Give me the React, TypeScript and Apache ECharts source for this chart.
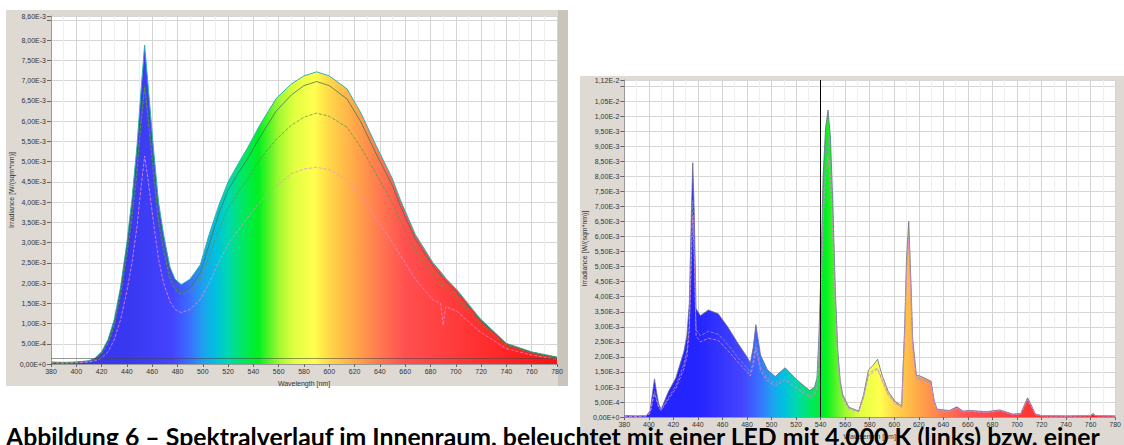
import React, { useEffect, useRef } from "react";
import * as echarts from "echarts";

// ---------- DATA ----------
// Left chart: LED 4000 K, irradiance in 1E-3 W/(sqm*nm)
const L_WL = [380,390,400,410,415,420,425,430,435,440, 444,448,451,454,457,461,465,469,474,478, 483,490,498,505,513,520,528,535,545,558, 570,580,590,600,614,625,637,650,656,668, 682,688,690,692,701,719,740,760,780];
const L_TOP = [0.05,0.04,0.05,0.08,0.15,0.3,0.6,1.1,1.9,3.0,
  4.07,5.4,6.7,7.88,6.8,5.32,4.0,3.2,2.4,2.1,
  1.96,2.1,2.45,3.2,3.95,4.5,4.95,5.32,5.9,6.56,
  6.92,7.12,7.22,7.12,6.8,6.2,5.4,4.57,4.07,3.2,
  2.5,2.28,2.2,2.12,1.83,1.13,0.51,0.3,0.17];
const L_C2 = [0.04,0.03,0.04,0.07,0.13,0.27,0.55,1.0,1.8,2.85,
  3.8,4.9,6.0,6.88,6.1,4.9,3.65,2.95,2.2,1.9,
  1.76,1.88,2.25,2.95,3.75,4.3,4.72,5.05,5.6,6.25,
  6.65,6.88,6.98,6.88,6.55,5.98,5.2,4.4,3.92,3.08,
  2.42,2.2,2.13,2.05,1.76,1.08,0.49,0.28,0.16];
const L_C3 = [0.04,0.03,0.04,0.06,0.12,0.25,0.5,0.95,1.7,2.7,
  3.6,4.7,5.9,6.82,6.0,4.7,3.5,2.8,2.1,1.85,
  1.72,1.8,2.1,2.65,3.35,3.85,4.25,4.55,5.05,5.55,
  5.9,6.1,6.2,6.12,5.85,5.35,4.7,3.98,3.55,2.8,
  2.2,2.0,1.95,1.9,1.62,1.0,0.46,0.27,0.15];
const L_C4 = [0.03,0.02,0.03,0.05,0.08,0.15,0.3,0.6,1.1,1.8,
  2.5,3.4,4.3,5.14,4.5,3.5,2.6,2.0,1.55,1.35,
  1.27,1.35,1.6,2.0,2.55,2.95,3.3,3.6,4.0,4.4,
  4.7,4.82,4.86,4.8,4.55,4.15,3.6,3.0,2.7,2.1,
  1.58,1.5,0.96,1.42,1.3,0.8,0.38,0.22,0.12];

// Right chart: fluorescent lamp
const R_WL = [380,390,398,401,403,404.6,406,408,410,416,
  422,428.5,431,433,434.5,435.8,437,438.5,442,448.5,
  456.6,464.6,472.6,480.6,482.7,485,487.2,489,491,496.6,
  503,511,520.6,531,535,537,538.5,540,542,544,
  546,548,550,552,554,556,558,563,571,575,
  579,583,586.4,590,595,600.6,606,608.6,610,611.8,
  613.5,615,618,622,630,632.6,635,645,651,656,
  662,675,686,696.6,703,706,708.6,711,715,720,
  740,760,762,764,780];
const R_TOP = [0.05,0.04,0.05,0.2,0.8,1.27,0.9,0.45,0.26,0.85,
  1.3,2.17,2.7,3.8,6.5,8.45,6.8,3.6,3.37,3.56,
  3.43,2.98,2.45,1.96,1.8,2.3,3.07,2.6,2.06,1.57,
  1.35,1.64,1.24,0.88,0.99,1.3,2.6,4.5,8.0,9.6,
  10.2,9.3,7.0,4.2,2.2,1.2,0.75,0.33,0.2,0.75,
  1.57,1.73,1.92,1.4,0.86,0.53,0.37,3.15,5.3,6.5,
  4.6,2.6,1.4,1.35,1.19,0.53,0.26,0.22,0.34,0.2,
  0.22,0.18,0.24,0.1,0.12,0.4,0.64,0.45,0.1,0.05,
  0.04,0.05,0.12,0.05,0.04];
const R_L1 = [0.03,0.03,0.04,0.15,0.55,0.85,0.65,0.35,0.25,0.65,
  1.05,1.75,2.2,3.1,5.4,7.2,5.6,2.9,2.7,2.85,
  2.75,2.4,1.98,1.6,1.48,1.85,2.45,2.1,1.68,1.3,
  1.12,1.33,1.02,0.72,0.8,1.1,2.2,3.9,7.0,8.6,
  9.3,8.4,6.3,3.8,2.0,1.1,0.68,0.3,0.18,0.68,
  1.42,1.56,1.62,1.25,0.78,0.48,0.34,2.9,4.9,6.1,
  4.3,2.4,1.3,1.26,1.12,0.5,0.24,0.2,0.3,0.18,
  0.2,0.16,0.22,0.09,0.11,0.37,0.6,0.42,0.09,0.05,
  0.04,0.05,0.1,0.05,0.04];
const R_L2 = [0.03,0.02,0.04,0.12,0.5,0.78,0.6,0.32,0.22,0.6,
  0.95,1.6,2.0,2.9,5.0,6.7,5.2,2.7,2.5,2.62,
  2.55,2.2,1.82,1.48,1.36,1.7,2.27,1.95,1.55,1.2,
  1.04,1.24,0.95,0.66,0.74,1.0,2.0,3.6,6.5,8.0,
  8.7,7.9,5.9,3.5,1.85,1.0,0.62,0.28,0.17,0.64,
  1.36,1.5,1.58,1.2,0.74,0.45,0.32,2.8,4.7,5.9,
  4.1,2.3,1.25,1.22,1.08,0.48,0.23,0.19,0.29,0.17,
  0.19,0.15,0.21,0.08,0.1,0.35,0.58,0.4,0.08,0.04,
  0.03,0.04,0.09,0.04,0.03];
const R_CURSOR = 540;

// Tick labels
const X_TICKS = [380,400,420,440,460,480,500,520,540,560,580,600,620,640,660,680,700,720,740,760,780];
const L_YLABELS = [0,0.5,1,1.5,2,2.5,3,3.5,4,4.5,5,5.5,6,6.5,7,7.5,8,8.6];
const L_YTICKS = [0,0.5,1,1.5,2,2.5,3,3.5,4,4.5,5,5.5,6,6.5,7,7.5,8,8.5,8.6];
const R_YLABELS = [0,0.5,1,1.5,2,2.5,3,3.5,4,4.5,5,5.5,6,6.5,7,7.5,8,8.5,9,9.5,10,10.5,11.2];
const R_YTICKS = [0,0.5,1,1.5,2,2.5,3,3.5,4,4.5,5,5.5,6,6.5,7,7.5,8,8.5,9,9.5,10,10.5,11,11.2];

const Y_NAME = "Irradiance [W/(sqm*nm)]";
const X_NAME = "Wavelength [nm]";
const CAPTION = "Abbildung 6 – Spektralverlauf im Innenraum, beleuchtet mit einer LED mit 4.000 K (links) bzw. einer";

const zip = (xs: number[], ys: number[]) => xs.map((x, i) => [x, ys[i]]);
const fmt = (v: number) => (v * 1e-3).toExponential(2).replace(".", ",").replace("e", "E");

const spectrumGradient = (blue: string) =>
  new echarts.graphic.LinearGradient(0, 0, 1, 0, [
    { offset: 0, color: blue },
    { offset: 0.15, color: blue },
    { offset: 0.24, color: "#4444ff" },
    { offset: 0.275, color: "#3a70ff" },
    { offset: 0.3, color: "#1fa0f0" },
    { offset: 0.325, color: "#00c0e0" },
    { offset: 0.35, color: "#00d8b0" },
    { offset: 0.38, color: "#00e860" },
    { offset: 0.41, color: "#00f020" },
    { offset: 0.45, color: "#a0f830" },
    { offset: 0.48, color: "#e0ff40" },
    { offset: 0.52, color: "#ffff50" },
    { offset: 0.55, color: "#ffd848" },
    { offset: 0.6, color: "#ffa848" },
    { offset: 0.65, color: "#ff7850" },
    { offset: 0.7, color: "#ff5050" },
    { offset: 0.8, color: "#ff3a3a" },
    { offset: 1, color: "#ff1010" },
  ]);

const labelFont = { fontSize: 7, color: "#333", fontFamily: "Liberation Sans" };

const xAxisCfg = (gridIndex: number, nameGap: number) => ({
  type: "value",
  gridIndex,
  min: 380,
  max: 780,
  interval: 20,
  name: X_NAME,
  nameLocation: "middle",
  nameGap,
  nameTextStyle: { ...labelFont },
  axisLine: { show: true, lineStyle: { color: "#999" } },
  axisTick: { show: true, length: 3, lineStyle: { color: "#666" } },
  axisLabel: { ...labelFont, margin: 4, customValues: X_TICKS },
  splitLine: { show: true, lineStyle: { color: "#d4d4d4", width: 1 } },
  minorTick: { show: false, splitNumber: 2 },
  minorSplitLine: { show: true, lineStyle: { color: "#eeeeee", width: 1 } },
});

const yAxisCfg = (gridIndex: number, max: number, labels: number[], ticks: number[]) => ({
  type: "value",
  gridIndex,
  min: 0,
  max,
  name: Y_NAME,
  nameLocation: "middle",
  nameGap: 36,
  nameTextStyle: { ...labelFont },
  axisLine: { show: true, lineStyle: { color: "#999" } },
  axisTick: { show: true, length: 4, customValues: ticks, lineStyle: { color: "#666" } },
  axisLabel: { ...labelFont, margin: 5, customValues: labels, formatter: fmt },
  splitLine: { show: true, lineStyle: { color: "#d6d6d6", width: 1 } },
});

export default function App() {
  const ref = useRef<HTMLDivElement>(null);
  useEffect(() => {
    if (!ref.current) return;
    const chart = echarts.init(ref.current, null, { renderer: "svg" });
    chart.setOption({
      animation: false,
      backgroundColor: "#ffffff",
      graphic: [
        { type: "rect", z: -10, shape: { x: 6, y: 10, width: 562, height: 376 }, style: { fill: "#dedad3" } },
        { type: "rect", z: -9, shape: { x: 558, y: 10, width: 10, height: 376 }, style: { fill: "#c9c5bd" } },
        { type: "rect", z: -10, shape: { x: 580, y: 76, width: 544, height: 369 }, style: { fill: "#dedad3" } },
        {
          type: "text",
          z: 100,
          x: 6,
          y: 436,
          style: {
            text: CAPTION,
            fill: "#000",
            font: "bold 24.8px Lato",
            verticalAlign: "middle",
          },
        },
      ],
      grid: [
        { left: 51, top: 16, width: 506, height: 348, show: true, backgroundColor: "#fff", borderWidth: 0 },
        { left: 624.3, top: 80, width: 500, height: 343, show: true, backgroundColor: "#fff", borderWidth: 0 },
      ],
      xAxis: [xAxisCfg(0, 13), xAxisCfg(1, 14)],
      yAxis: [yAxisCfg(0, 8.6, L_YLABELS, L_YTICKS), yAxisCfg(1, 11.2, R_YLABELS, R_YTICKS)],
      series: [
        {
          type: "line", xAxisIndex: 0, yAxisIndex: 0, data: zip(L_WL, L_TOP), symbol: "none",
          lineStyle: { color: "#30b0b0", width: 1 },
          areaStyle: { color: spectrumGradient("#3838f0"), opacity: 1 },
          markLine: {
            silent: true, symbol: "none", label: { show: false },
            lineStyle: { color: "#444", width: 1, type: "solid", opacity: 0.55 },
            data: [{ yAxis: 0.14 }],
          },
        },
        { type: "line", xAxisIndex: 0, yAxisIndex: 0, data: zip(L_WL, L_C2), symbol: "none", lineStyle: { color: "#3f7a52", width: 0.8 } },
        { type: "line", xAxisIndex: 0, yAxisIndex: 0, data: zip(L_WL, L_C3), symbol: "none", lineStyle: { color: "#5c9a3c", width: 0.8, type: "dashed" } },
        { type: "line", xAxisIndex: 0, yAxisIndex: 0, data: zip(L_WL, L_C4), symbol: "none", lineStyle: { color: "#f08ad8", width: 0.8, type: "dashed" } },
        {
          type: "line", xAxisIndex: 1, yAxisIndex: 1, data: zip(R_WL, R_TOP), symbol: "none",
          lineStyle: { color: "#6a6a90", width: 0.8 },
          areaStyle: { color: spectrumGradient("#2424ff"), opacity: 1 },
          markLine: {
            silent: true, symbol: "none", label: { show: false },
            lineStyle: { color: "#000", width: 1, type: "solid" },
            data: [{ xAxis: R_CURSOR }],
          },
        },
        { type: "line", xAxisIndex: 1, yAxisIndex: 1, data: zip(R_WL, R_L1), symbol: "none", lineStyle: { color: "#8a9ab8", width: 0.8, type: "dashed" } },
        { type: "line", xAxisIndex: 1, yAxisIndex: 1, data: zip(R_WL, R_L2), symbol: "none", lineStyle: { color: "#e488d4", width: 0.8, type: "dashed" } },
      ],
    });
    return () => chart.dispose();
  }, []);
  return (
    <div
      ref={ref}
      style={{ position: "fixed", left: 0, top: 0, width: 1124, height: 445, background: "#fff" }}
    />
  );
}
